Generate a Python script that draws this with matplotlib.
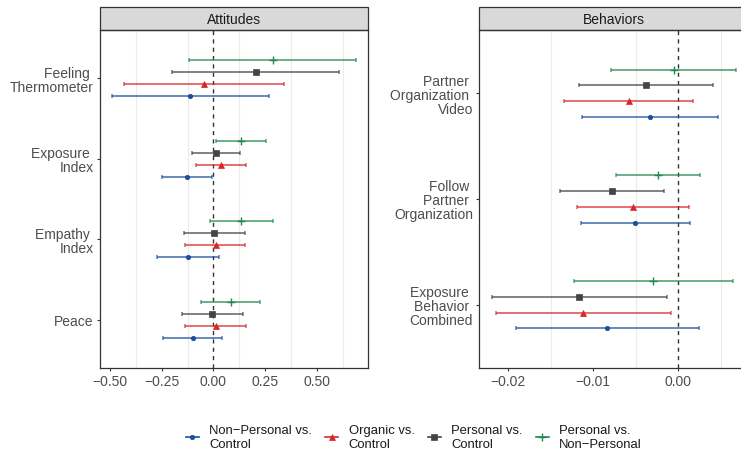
import matplotlib.pyplot as plt
from matplotlib.lines import Line2D
from matplotlib.patches import Rectangle

plt.rcParams["font.family"] = ["Liberation Sans", "DejaVu Sans"]

# -----------------------------
# Data
# -----------------------------

contrasts = [
    "Non\u2212Personal vs.\nControl",
    "Organic vs.\nControl",
    "Personal vs.\nControl",
    "Personal vs.\nNon\u2212Personal",
]
colors = ["#1B4F9C", "#D7262B", "#444444", "#23884F"]
markers = ["o", "^", "s", "+"]
marker_sizes = [3.2, 4.2, 4.0, 6.0]

# wrapped labels keep a trailing (non-breaking) space on all but the last line
SP = "\u00a0"

# Attitudes (bottom to top)
att_outcomes = ["Peace", "Empathy" + SP + "\nIndex", "Exposure" + SP + "\nIndex",
                "Feeling" + SP + "\nThermometer"]
att_est = [
    [-0.101, -0.122, -0.127, -0.111],   # Non-Personal vs. Control
    [0.011, 0.011, 0.037, -0.045],      # Organic vs. Control
    [-0.007, 0.005, 0.014, 0.205],      # Personal vs. Control
    [0.083, 0.135, 0.135, 0.287],       # Personal vs. Non-Personal
]
att_lo = [
    [-0.242, -0.271, -0.250, -0.489],
    [-0.135, -0.137, -0.082, -0.430],
    [-0.152, -0.141, -0.104, -0.199],
    [-0.058, -0.018, 0.014, -0.119],
]
att_hi = [
    [0.041, 0.025, -0.005, 0.269],
    [0.157, 0.154, 0.155, 0.340],
    [0.142, 0.152, 0.128, 0.607],
    [0.227, 0.287, 0.256, 0.689],
]

# Behaviors (bottom to top)
beh_outcomes = [
    "Exposure" + SP + "\nBehavior" + SP + "\nCombined",
    "Follow" + SP + "\nPartner" + SP + "\nOrganization",
    "Partner" + SP + "\nOrganization" + SP + "\nVideo",
]
beh_est = [
    [-0.00838, -0.00505, -0.00337],
    [-0.01120, -0.00536, -0.00583],
    [-0.01167, -0.00780, -0.00380],
    [-0.00294, -0.00235, -0.00055],
]
beh_lo = [
    [-0.01913, -0.01143, -0.01131],
    [-0.02148, -0.01194, -0.01343],
    [-0.02195, -0.01390, -0.01167],
    [-0.01229, -0.00728, -0.00791],
]
beh_hi = [
    [0.00242, 0.00141, 0.00461],
    [-0.00082, 0.00129, 0.00172],
    [-0.00129, -0.00169, 0.00400],
    [0.00640, 0.00254, 0.00680],
]

att_ticks = [-0.50, -0.25, 0.00, 0.25, 0.50]
att_ticklabels = ["\u22120.50", "\u22120.25", "0.00", "0.25", "0.50"]
att_grid = [-0.375, -0.125, 0.125, 0.375, 0.625]
beh_ticks = [-0.02, -0.01, 0.00]
beh_ticklabels = ["\u22120.02", "\u22120.01", "0.00"]
beh_grid = [-0.015, -0.005, 0.005]

dodge = [-0.225, -0.075, 0.075, 0.225]


# -----------------------------
# Panel drawing
# -----------------------------

def draw_panel(ax, title, outcomes, est, lo, hi, ticks, ticklabels, grid):
    n = len(outcomes)
    for k in range(len(contrasts)):
        ys = [i + 1 + dodge[k] for i in range(n)]
        xerr = [[e - l for e, l in zip(est[k], lo[k])],
                [h - e for e, h in zip(est[k], hi[k])]]
        ax.errorbar(est[k], ys, xerr=xerr, fmt="none", ecolor=colors[k],
                    elinewidth=1.3, capsize=1.6, capthick=1.1, alpha=0.72,
                    zorder=3)
        ax.plot(est[k], ys, linestyle="none", marker=markers[k],
                color=colors[k], markersize=marker_sizes[k],
                markeredgewidth=1.0 if markers[k] == "+" else 0.5, zorder=4)

    ax.axvline(0, color="#333333", linestyle=(0, (3, 3)), linewidth=1.0,
               zorder=2)

    # ggplot-style 5% expansion
    lo_all = min(min(r) for r in lo)
    hi_all = max(max(r) for r in hi)
    pad = 0.05 * (hi_all - lo_all)
    ax.set_xlim(lo_all - pad, hi_all + pad)
    ax.set_ylim(0.4, n + 0.6)

    ax.set_xticks(ticks)
    ax.set_xticklabels(ticklabels)
    ax.set_xticks(grid, minor=True)
    ax.set_yticks(range(1, n + 1))
    ax.set_yticklabels(outcomes, linespacing=1.0)
    ax.grid(which="minor", axis="x", color="#EBEBEB", linewidth=0.8)
    ax.set_axisbelow(True)

    ax.tick_params(which="major", length=2.5, width=0.8, color="#333333",
                   labelsize=10, labelcolor="#4D4D4D", pad=2)
    ax.tick_params(which="minor", length=0)
    for s in ax.spines.values():
        s.set_color("#333333")
        s.set_linewidth(0.9)

    # facet strip
    strip_h = 23 / 338
    ax.add_patch(Rectangle((0, 1), 1, strip_h, transform=ax.transAxes,
                           facecolor="#D9D9D9", edgecolor="#333333",
                           linewidth=0.9, clip_on=False))
    ax.text(0.5, 1 + strip_h / 2, title, transform=ax.transAxes,
            ha="center", va="center", fontsize=10, color="#1A1A1A")


# -----------------------------
# Figure
# -----------------------------

fig = plt.figure(figsize=(7.41, 4.52), dpi=100)
ax1 = fig.add_axes([100 / 741, 83 / 452, 268.3 / 741, 338 / 452])
ax2 = fig.add_axes([479.3 / 741, 83 / 452, 269.3 / 741, 338 / 452])

draw_panel(ax1, "Attitudes", att_outcomes, att_est, att_lo, att_hi,
           att_ticks, att_ticklabels, att_grid)
draw_panel(ax2, "Behaviors", beh_outcomes, beh_est, beh_lo, beh_hi,
           beh_ticks, beh_ticklabels, beh_grid)

handles = [
    Line2D([], [], color=c, marker=m, markersize=ms,
           markeredgewidth=1.0 if m == "+" else 0.5, linewidth=1.2)
    for c, m, ms in zip(colors, markers, marker_sizes)
]
fig.legend(handles, contrasts, loc="center", ncol=4,
           bbox_to_anchor=(414 / 741, 1 - 437.7 / 452), frameon=False,
           fontsize=9.4, handlelength=1.0, handletextpad=0.8,
           columnspacing=1.0, labelcolor="#1A1A1A")

fig.savefig("out.png", dpi=100)
